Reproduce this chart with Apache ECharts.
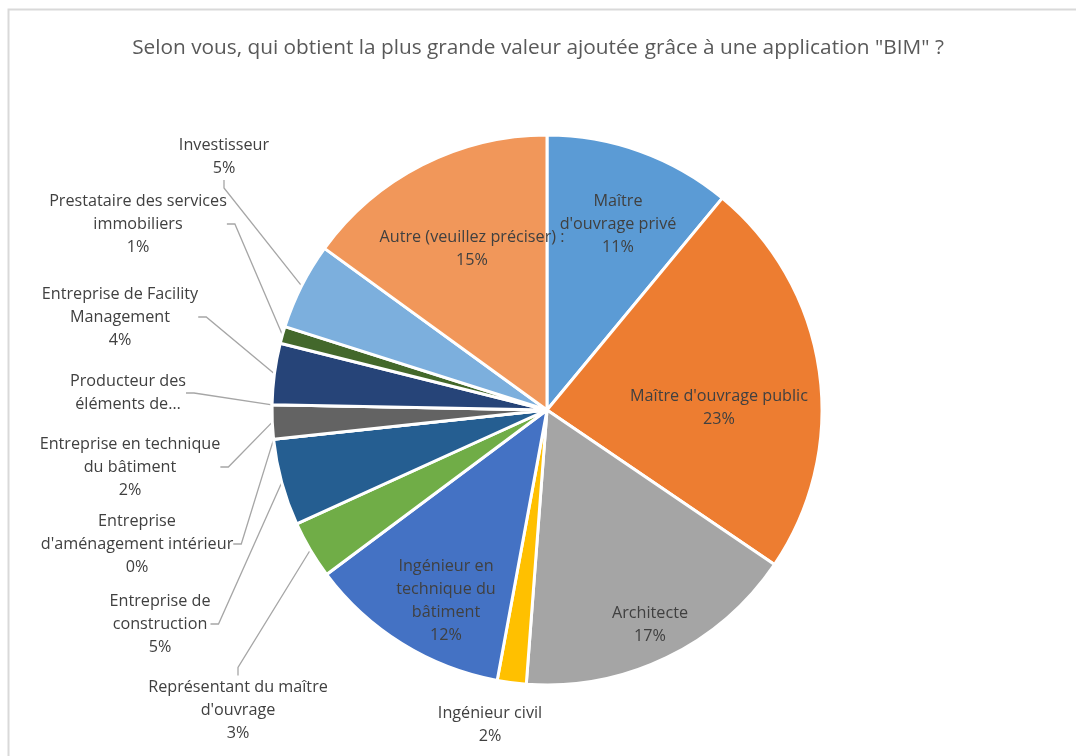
<!DOCTYPE html>
<html>
<head>
<meta charset="utf-8">
<script src="https://cdn.jsdelivr.net/npm/echarts@6/dist/echarts.min.js"></script>
<style>
  html, body { margin: 0; padding: 0; background: #fff; }
  #main { width: 1076px; height: 756px; }
</style>
</head>
<body>
<div id="main"></div>
<script>
// données (ordre horaire depuis midi)
var categories = [
  "Maître\nd'ouvrage privé",
  "Maître d'ouvrage public",
  "Architecte",
  "Ingénieur civil",
  "Ingénieur en\ntechnique du\nbâtiment",
  "Représentant du maître\nd'ouvrage",
  "Entreprise de\nconstruction",
  "Entreprise\nd'aménagement intérieur",
  "Entreprise en technique\ndu bâtiment",
  "Producteur des\néléments de…",
  "Entreprise de Facility\nManagement",
  "Prestataire des services\nimmobiliers",
  "Investisseur",
  "Autre (veuillez préciser) :"
];
var values = [11, 23.5, 16.7, 1.7, 11.9, 3.4, 5.1, 0, 2, 0, 3.6, 1, 5.1, 15];
var colors = ['#5B9BD5', '#ED7D31', '#A5A5A5', '#FFC000', '#4472C4', '#70AD47', '#255E91',
  '#9E480E', '#636363', '#997300', '#264478', '#43682B', '#7CAFDD', '#F1975A'];
// étiquettes à l'intérieur des parts
var insideLabels = [0, 1, 2, 4, 13];
// étiquette sans pourcentage (tronquée dans l'original)
var noPercent = [9];

// positions des étiquettes (centre du bloc de texte)
var labelPos = [
  [618, 224], [719, 408], [650, 625], [490, 725], [446, 601],
  [238, 710], [160, 624], [137, 544], [130, 467], [128, 393],
  [120, 317], [138, 224], [224, 157], [472, 249]
];

var myChart = echarts.init(document.getElementById('main'));

var pieData = categories.map(function (name, i) {
  var inside = insideLabels.indexOf(i) >= 0;
  return {
    name: name,
    value: values[i],
    itemStyle: { color: colors[i] },
    label: {
      position: inside ? 'inside' : 'outside',
      formatter: noPercent.indexOf(i) >= 0 ? '{b}' : '{b}\n{d}%'
    },
    labelLine: { show: !inside && i !== 3 }
  };
});

var option = {
  backgroundColor: '#fff',
  title: {
    text: 'Selon vous, qui obtient la plus grande valeur ajoutée grâce à une application "BIM" ?',
    left: 'center',
    top: 33,
    textStyle: {
      fontFamily: 'Open Sans',
      fontSize: 20.8,
      fontWeight: 'normal',
      color: '#595959'
    }
  },
  graphic: [{
    type: 'polyline',
    shape: { points: [[8.5, 760], [8.5, 9.5], [1080, 9.5]] },
    style: { stroke: '#D9D9D9', lineWidth: 2, fill: null },
    silent: true
  }],
  series: [{
    type: 'pie',
    center: [547, 410],
    radius: 275,
    startAngle: 90,
    clockwise: true,
    percentPrecision: 0,
    avoidLabelOverlap: false,
    stillShowZeroSum: true,
    itemStyle: { borderColor: '#fff', borderWidth: 3 },
    label: {
      fontFamily: 'Open Sans',
      fontSize: 16.2,
      lineHeight: 23,
      color: '#404040',
      align: 'center'
    },
    labelLine: {
      length: 10,
      length2: 8,
      lineStyle: { color: '#A6A6A6', width: 1.3 }
    },
    labelLayout: function (params) {
      var p = labelPos[params.dataIndex];
      return { x: p[0], y: p[1], align: 'center', verticalAlign: 'middle' };
    },
    emphasis: { disabled: true },
    data: pieData
  }]
};

myChart.setOption(option);
</script>
</body>
</html>
